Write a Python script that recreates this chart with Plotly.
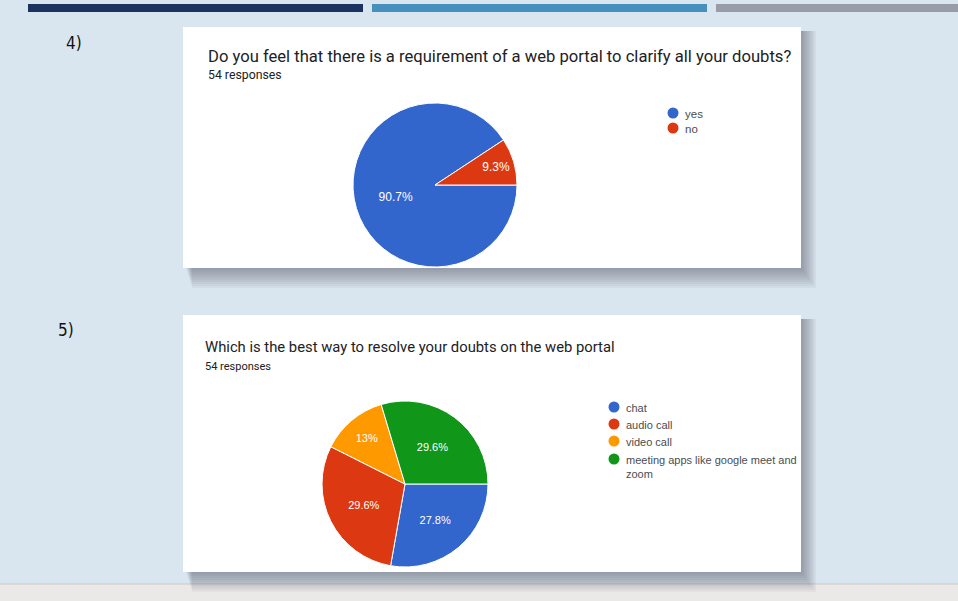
import plotly.graph_objects as go

W, H = 958, 601

# ---- data ----
q4_title = "Do you feel that there is a requirement of a web portal to clarify all your doubts?"
q4_labels = ["yes", "no"]
q4_counts = [49, 5]
q4_pct_text = ["90.7%", "9.3%"]

q5_title = "Which is the best way to resolve your doubts on the web portal"
q5_labels = ["chat", "audio call", "video call", "meeting apps like google meet and<br>zoom"]
q5_counts = [15, 16, 7, 16]
q5_pct_text = ["27.8%", "29.6%", "13%", "29.6%"]

responses_text = "54 responses"

colors = ["#3366cc", "#dc3912", "#ff9900", "#109618"]

fig = go.Figure()

def dom_x(cx, r):
    return [(cx - r) / W, (cx + r) / W]

def dom_y(cy, r):
    return [1 - (cy + r) / H, 1 - (cy - r) / H]

# pies
fig.add_trace(go.Pie(
    labels=q4_labels, values=q4_counts, text=q4_pct_text, textinfo="text",
    sort=False, direction="clockwise", rotation=90,
    marker=dict(colors=colors[:2], line=dict(color="white", width=1)),
    textposition="inside", insidetextorientation="horizontal",
    textfont=dict(color="white", size=12, family="Liberation Sans"),
    domain=dict(x=dom_x(435, 82), y=dom_y(185, 82)),
    showlegend=False, hoverinfo="label+percent",
))
fig.add_trace(go.Pie(
    labels=q5_labels, values=q5_counts, text=q5_pct_text, textinfo="text",
    sort=False, direction="clockwise", rotation=90,
    marker=dict(colors=colors, line=dict(color="white", width=1)),
    textposition="inside", insidetextorientation="horizontal",
    textfont=dict(color="white", size=11, family="Liberation Sans"),
    domain=dict(x=dom_x(405, 83), y=dom_y(484, 83)),
    showlegend=False, hoverinfo="label+percent",
))

ann = []

# custom legends: circle markers + text
def add_legend(labels, x, y0, steps, fsize):
    ys = []
    y = y0
    for i, lab in enumerate(labels):
        ys.append(y)
        ann.append(dict(x=x + 10, y=y - 7.5, text=lab, showarrow=False, xanchor="left",
                        yanchor="top", align="left",
                        font=dict(size=fsize, color="#4a4d50", family="Liberation Sans")))
        if i < len(steps):
            y += steps[i]
    fig.add_trace(go.Scatter(
        x=[x] * len(labels), y=ys, mode="markers",
        marker=dict(color=colors[:len(labels)], size=11, symbol="circle"),
        showlegend=False, hoverinfo="skip",
    ))

add_legend(q4_labels, 673, 113, [15], 11.5)
add_legend(q5_labels, 614, 407, [17, 17, 18], 11)

shapes = []
# top bars
shapes.append(dict(type="rect", x0=28, x1=363, y0=4, y1=12, fillcolor="#1b335f", line_width=0, layer="below"))
shapes.append(dict(type="rect", x0=372, x1=707, y0=4, y1=12, fillcolor="#4690bd", line_width=0, layer="below"))
shapes.append(dict(type="rect", x0=716, x1=958, y0=4, y1=12, fillcolor="#979ca6", line_width=0, layer="below"))
# bottom strip
shapes.append(dict(type="rect", x0=0, x1=958, y0=584, y1=601, fillcolor="#ebe9e7", line_width=0, layer="below"))
shapes.append(dict(type="line", x0=0, x1=958, y0=584, y1=584, line=dict(color="#c9c9c9", width=1), layer="below"))

# cards with soft shadows
for (x0, y0, x1, y1) in [(183, 27, 801, 268), (183, 315, 801, 572)]:
    for k in range(20, 0, -2):
        shapes.append(dict(type="rect", x0=x0 + 3 + k * 0.3, y0=y0 + 4, x1=x1 + k * 0.75, y1=y1 + k,
                           fillcolor="rgba(70,78,88,0.055)", line_width=0, layer="below"))
    shapes.append(dict(type="rect", x0=x0, y0=y0, x1=x1, y1=y1,
                       fillcolor="white", line_width=0, layer="below"))

ann.append(dict(x=64, y=43, text="4)", showarrow=False, xanchor="left", yanchor="middle",
                font=dict(size=17, color="#111111", family="DejaVu Sans Condensed")))
ann.append(dict(x=56, y=330, text="5)", showarrow=False, xanchor="left", yanchor="middle",
                font=dict(size=17, color="#111111", family="DejaVu Sans Condensed")))
ann.append(dict(x=206, y=56, text=q4_title, showarrow=False, xanchor="left", yanchor="middle",
                font=dict(size=16.6, color="#202124", family="Roboto")))
ann.append(dict(x=206, y=75, text=responses_text, showarrow=False, xanchor="left", yanchor="middle",
                font=dict(size=12.3, color="#202124", family="Roboto")))
ann.append(dict(x=203, y=347, text=q5_title, showarrow=False, xanchor="left", yanchor="middle",
                font=dict(size=14.8, color="#202124", family="Roboto")))
ann.append(dict(x=203, y=366, text=responses_text, showarrow=False, xanchor="left", yanchor="middle",
                font=dict(size=11, color="#202124", family="Roboto")))
for a in ann:
    a["xref"] = "x"
    a["yref"] = "y"

fig.update_layout(
    width=W, height=H,
    margin=dict(l=0, r=0, t=0, b=0),
    paper_bgcolor="#d9e6ef",
    plot_bgcolor="rgba(0,0,0,0)",
    xaxis=dict(range=[0, W], visible=False, fixedrange=True),
    yaxis=dict(range=[H, 0], visible=False, fixedrange=True),
    shapes=shapes,
    annotations=ann,
    showlegend=False,
)

fig.write_html("out.html")
